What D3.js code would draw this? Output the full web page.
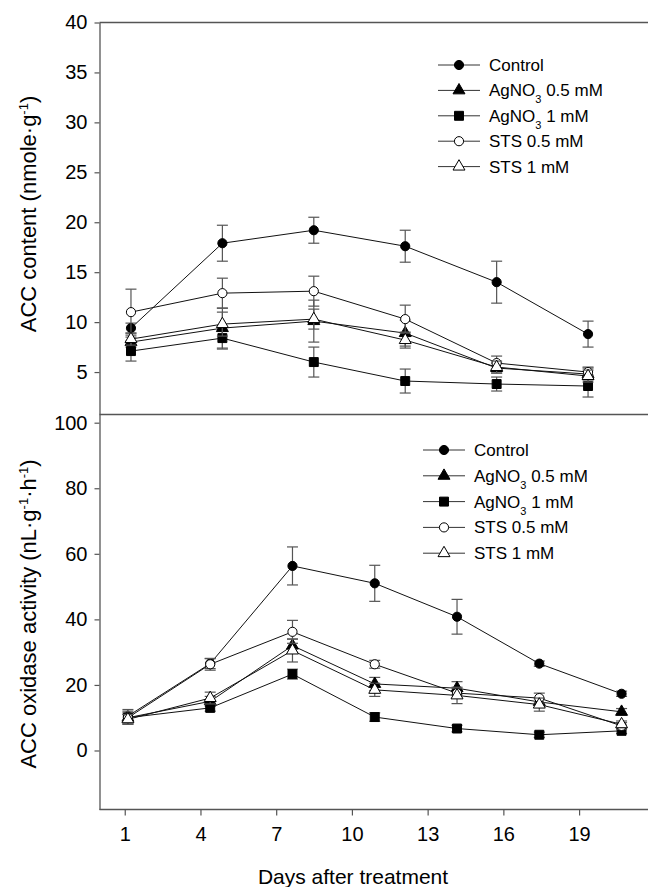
<!DOCTYPE html>
<html>
<head>
<meta charset="utf-8">
<script src="https://cdn.jsdelivr.net/npm/d3@7"></script>
<style>
  body { margin: 0; background: #fff; }
  svg text { font-family: Arial, "Liberation Sans", sans-serif; fill: #000; }
</style>
</head>
<body>
<div id="chart"></div>
<script>
// ---- data ----
const seriesNames = ["Control", "AgNO3 0.5 mM", "AgNO3 1 mM", "STS 0.5 mM", "STS 1 mM"];
const seriesMarks = ["circle", "triangle", "square", "circle", "triangle"];
const seriesFilled = [true, true, true, false, false];

// ACC content, days 1..16
const daysTop = [1, 4, 7, 10, 13, 16];
const accControl = [9.4, 17.9, 19.2, 17.6, 14.0, 8.8];
const accControlErr = [0.5, 1.8, 1.3, 1.6, 2.1, 1.3];
const accAg05 = [8.0, 9.4, 10.1, 8.9, 5.4, 4.8];
const accAg05Err = [0.5, 2.0, 2.1, 1.3, 0.5, 0.6];
const accAg1 = [7.1, 8.4, 6.0, 4.1, 3.8, 3.6];
const accAg1Err = [1.0, 1.1, 1.5, 1.2, 0.7, 1.1];
const accSts05 = [11.0, 12.9, 13.1, 10.3, 5.9, 5.0];
const accSts05Err = [2.3, 1.5, 1.5, 1.4, 0.7, 0.5];
const accSts1 = [8.3, 9.8, 10.3, 8.2, 5.5, 4.6];
const accSts1Err = [0.6, 1.2, 1.0, 0.8, 0.6, 0.6];

// ACC oxidase activity, days 1..19
const daysBottom = [1, 4, 7, 10, 13, 16, 19];
const acoControl = [10.5, 26.5, 56.3, 51.0, 40.8, 26.5, 17.3];
const acoControlErr = [2.0, 1.5, 5.8, 5.5, 5.3, 0.8, 0.8];
const acoAg05 = [10.0, 15.0, 32.0, 20.3, 19.0, 14.8, 11.8];
const acoAg05Err = [1.5, 1.5, 2.0, 2.0, 2.0, 1.0, 1.0];
const acoAg1 = [10.0, 13.0, 23.3, 10.2, 6.7, 4.8, 6.0];
const acoAg1Err = [1.0, 1.0, 1.5, 1.3, 1.0, 0.8, 0.8];
const acoSts05 = [10.0, 26.3, 36.2, 26.3, 17.5, 16.0, 7.5];
const acoSts05Err = [2.0, 1.8, 3.5, 1.2, 1.5, 1.5, 1.0];
const acoSts1 = [9.5, 16.0, 30.5, 18.5, 16.8, 14.0, 8.0];
const acoSts1Err = [1.5, 1.8, 3.5, 2.0, 2.5, 2.0, 1.0];

const topTicks = [5, 10, 15, 20, 25, 30, 35, 40];
const bottomTicks = [0, 20, 40, 60, 80, 100];
const dayTicks = [1, 4, 7, 10, 13, 16, 19];

const topValues = [accControl, accAg05, accAg1, accSts05, accSts1];
const topErrors = [accControlErr, accAg05Err, accAg1Err, accSts05Err, accSts1Err];
const bottomValues = [acoControl, acoAg05, acoAg1, acoSts05, acoSts1];
const bottomErrors = [acoControlErr, acoAg05Err, acoAg1Err, acoSts05Err, acoSts1Err];

// ---- layout ----
const width = 648, height = 887;
const left = 99.5, right = 649;
const topY0 = 22.5, midY = 414.5, botY = 809.5;
const axisColor = "#555";
const errColor = "#555";

const svg = d3.select("#chart").append("svg")
    .attr("width", width)
    .attr("height", height);

// scales
let xTop = d3.scaleLinear().domain([0, 18]).range([100.5, right]);
let xBottom = d3.scaleLinear().domain([0, 20]).range([100.5, right]);
let xTicks = d3.scaleLinear().domain([0, 21.75]).range([left, 648.5]);
let yTop = d3.scaleLinear().domain([0.75, 40]).range([midY, topY0]);
let yBottom = d3.scaleLinear().domain([-18, 102.5]).range([botY, midY]);

// frame lines
[topY0, midY, botY].forEach(y => {
    svg.append("line")
        .attr("x1", left).attr("x2", width)
        .attr("y1", y).attr("y2", y)
        .attr("stroke", axisColor).attr("stroke-width", 1.3);
});

function styleAxis(g) {
    g.select(".domain").attr("stroke", axisColor).attr("stroke-width", 1.3);
    g.selectAll(".tick line").attr("stroke", axisColor).attr("stroke-width", 1.2);
    g.selectAll(".tick text").attr("font-size", 20).attr("fill", "#000")
        .attr("font-family", "Arial, 'Liberation Sans', sans-serif");
}

svg.append("g")
    .attr("transform", `translate(${left},0)`)
    .call(d3.axisLeft(yTop).tickValues(topTicks).tickSize(5).tickPadding(7).tickSizeOuter(0))
    .call(styleAxis);

svg.append("g")
    .attr("transform", `translate(${left},0)`)
    .call(d3.axisLeft(yBottom).tickValues(bottomTicks).tickSize(5).tickPadding(7).tickSizeOuter(0))
    .call(styleAxis);

svg.append("g")
    .attr("transform", `translate(0,${botY})`)
    .call(d3.axisBottom(xTicks).tickValues(dayTicks).tickSize(6).tickPadding(11).tickSizeOuter(0))
    .call(g => g.select(".domain").remove())
    .call(styleAxis);

// axis titles
let yTitleTop = svg.append("text")
    .attr("transform", `translate(36,214) rotate(-90)`)
    .attr("text-anchor", "middle")
    .attr("font-size", 22);
yTitleTop.append("tspan").text("ACC content (nmole·g");
yTitleTop.append("tspan").attr("font-size", 13).attr("dy", -8).text("-1");
yTitleTop.append("tspan").attr("dy", 8).text(")");

let yTitleBottom = svg.append("text")
    .attr("transform", `translate(36,614) rotate(-90)`)
    .attr("text-anchor", "middle")
    .attr("font-size", 22);
yTitleBottom.append("tspan").text("ACC oxidase activity (nL·g");
yTitleBottom.append("tspan").attr("font-size", 13).attr("dy", -8).text("-1");
yTitleBottom.append("tspan").attr("dy", 8).text("·h");
yTitleBottom.append("tspan").attr("font-size", 13).attr("dy", -8).text("-1");
yTitleBottom.append("tspan").attr("dy", 8).text(")");

svg.append("text")
    .attr("x", 353).attr("y", 884)
    .attr("text-anchor", "middle")
    .attr("font-size", 21)
    .text("Days after treatment");

// markers
const symbolFor = {
    circle: d3.symbol().type(d3.symbolCircle).size(66),
    triangle: d3.symbol().type(d3.symbolTriangle).size(62),
    square: d3.symbol().type(d3.symbolSquare).size(80)
};

function drawMarker(g, i, x, y) {
    g.append("path")
        .attr("d", symbolFor[seriesMarks[i]]())
        .attr("transform", `translate(${x},${y})`)
        .attr("fill", seriesFilled[i] ? "#000" : "#fff")
        .attr("stroke", "#000")
        .attr("stroke-width", 1);
}

function drawPanel(days, values, errors, xs, ys) {
    let panel = svg.append("g");
    values.forEach((vals, i) => {
        let pts = days.map((d, j) => ({ d: d, v: vals[j], e: errors[i][j] }));
        let g = panel.append("g");

        g.append("path")
            .datum(pts)
            .attr("fill", "none")
            .attr("stroke", "#111")
            .attr("stroke-width", 1)
            .attr("d", d3.line().x(p => xs(p.d)).y(p => ys(p.v)));

        pts.forEach(p => {
            let x = xs(p.d);
            g.append("line")
                .attr("x1", x).attr("x2", x)
                .attr("y1", ys(p.v - p.e)).attr("y2", ys(p.v + p.e))
                .attr("stroke", errColor).attr("stroke-width", 1.2);
            [p.v - p.e, p.v + p.e].forEach(v => {
                g.append("line")
                    .attr("x1", x - 5.5).attr("x2", x + 5.5)
                    .attr("y1", ys(v)).attr("y2", ys(v))
                    .attr("stroke", errColor).attr("stroke-width", 1.2);
            });
        });

        pts.forEach(p => drawMarker(g, i, xs(p.d), ys(p.v)));
    });
}

drawPanel(daysTop, topValues, topErrors, xTop, yTop);
drawPanel(daysBottom, bottomValues, bottomErrors, xBottom, yBottom);

// legends
function drawLegend(x0, y0, step) {
    let lg = svg.append("g");
    seriesNames.forEach((name, i) => {
        let y = y0 + i * step;
        lg.append("line")
            .attr("x1", x0).attr("x2", x0 + 42)
            .attr("y1", y).attr("y2", y)
            .attr("stroke", "#333").attr("stroke-width", 1);
        drawMarker(lg, i, x0 + 21, y);
        let t = lg.append("text")
            .attr("x", x0 + 51).attr("y", y + 6)
            .attr("font-size", 17);
        if (name.startsWith("AgNO3")) {
            t.append("tspan").text("AgNO");
            t.append("tspan").attr("font-size", 11).attr("dy", 7).text("3");
            t.append("tspan").attr("dy", -7).text(name.slice(5));
        } else {
            t.text(name);
        }
    });
}

drawLegend(438, 65, 25.4);
drawLegend(423, 450, 25.8);
</script>
</body>
</html>
